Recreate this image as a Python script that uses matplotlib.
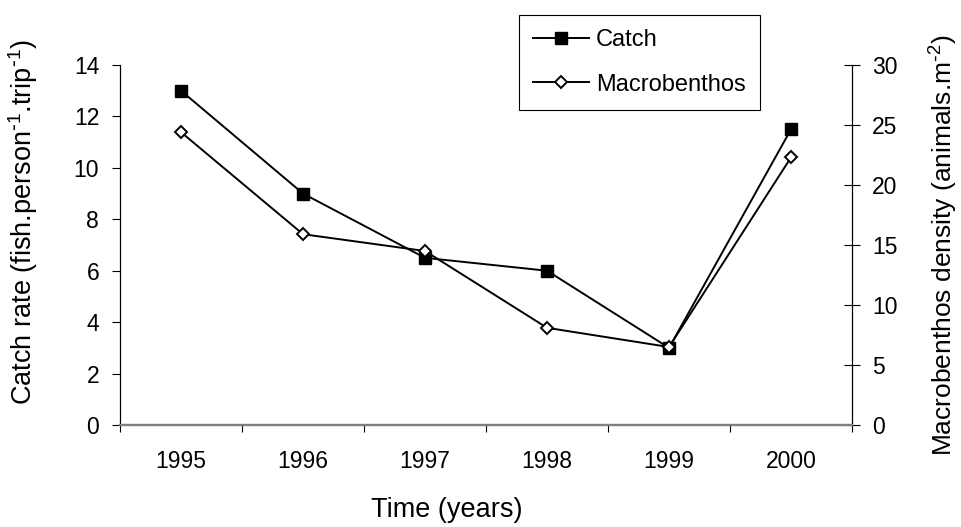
import numpy as np
import matplotlib.pyplot as plt
from matplotlib.ticker import FixedLocator, NullFormatter, FixedFormatter

plt.rcParams['font.family'] = ['Liberation Sans', 'DejaVu Sans']
plt.rcParams['mathtext.default'] = 'regular'

years = ['1995', '1996', '1997', '1998', '1999', '2000']
catch = [13.0, 9.0, 6.5, 6.0, 3.0, 11.5]
macrobenthos = [24.4, 15.9, 14.5, 8.1, 6.5, 22.3]

x = np.arange(1, len(years) + 1)

fig = plt.figure(figsize=(9.61, 5.27), dpi=100)
ax = fig.add_axes([0.1249, 0.1935, 0.7617, 0.6832])
ax2 = ax.twinx()

l1, = ax.plot(x, catch, color='black', lw=1.4, marker='s', ms=8,
              mfc='black', mec='black', label='Catch')
l2, = ax2.plot(x, macrobenthos, color='black', lw=1.4, marker='D', ms=6,
               mfc='white', mec='black', mew=1.4, label='Macrobenthos')

ax.set_xlim(0.5, len(years) + 0.5)
ax.set_ylim(0, 14)
ax2.set_ylim(0, 30)
ax.set_yticks(np.arange(0, 15, 2))
ax2.set_yticks(np.arange(0, 31, 5))

# category ticks sit between the years, labels at the centres
ax.xaxis.set_major_locator(FixedLocator(np.arange(0.5, len(years) + 1)))
ax.xaxis.set_major_formatter(NullFormatter())
ax.xaxis.set_minor_locator(FixedLocator(x))
ax.xaxis.set_minor_formatter(FixedFormatter(years))
ax.tick_params(axis='x', which='major', direction='out', length=5, width=0.8)
ax.tick_params(axis='x', which='minor', length=0, pad=18, labelsize=16.5)
ax.tick_params(axis='y', direction='out', length=6, width=0.8, pad=9,
               labelsize=16.5)
ax2.tick_params(axis='y', direction='inout', length=11, width=0.8, pad=9,
                labelsize=16.5)

for a in (ax, ax2):
    a.spines['top'].set_visible(False)
    a.spines['bottom'].set_color('#808080')
    a.spines['bottom'].set_linewidth(1.6)
    a.spines['left'].set_linewidth(0.8)
    a.spines['right'].set_linewidth(0.8)

ax.set_xlabel('Time (years)', fontsize=19.5)
ax.xaxis.set_label_coords(0.447, -0.199)
ax.set_ylabel(r'Catch rate (fish.person$^{\text{-}1}$.trip$^{\text{-}1}$)',
              fontsize=19.5)
ax.yaxis.set_label_coords(-0.109, 0.5625)
ax2.set_ylabel(r'Macrobenthos density (animals.m$^{\text{-}2}$)', fontsize=19)
ax2.yaxis.set_label_coords(1.104, 0.5)

leg = ax.legend(handles=[l1, l2], loc='upper left',
                bbox_to_anchor=(519 / 961, 1 - 15 / 527),
                bbox_transform=fig.transFigure, borderaxespad=0,
                fontsize=17, frameon=True, fancybox=False,
                edgecolor='black', framealpha=1, handlelength=2.35,
                handletextpad=0.3, labelspacing=0.95, borderpad=0.6)
leg.get_frame().set_linewidth(0.8)
leg.set_zorder(10)

fig.savefig('out.png', dpi=100)
